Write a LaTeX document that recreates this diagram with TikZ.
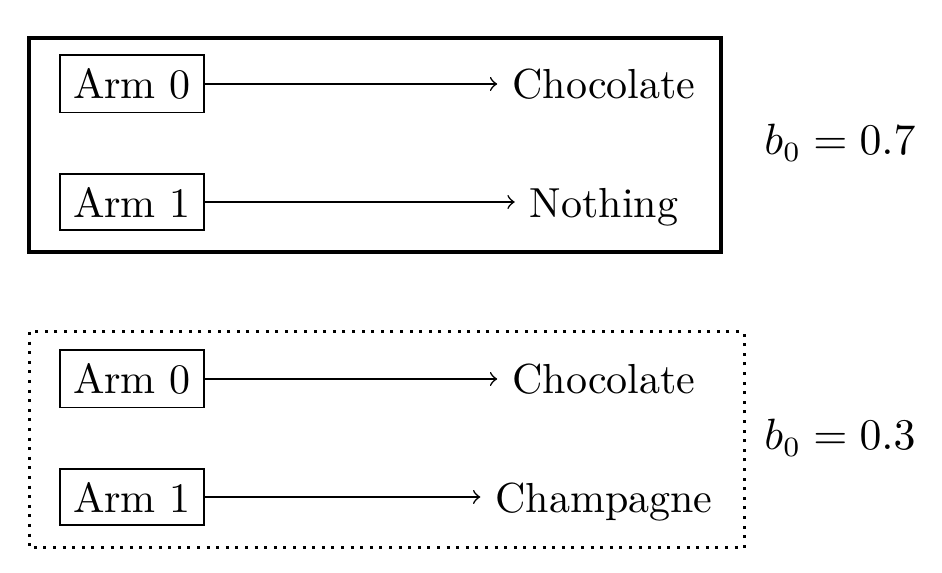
\documentclass[tikz,border=0pt]{standalone}
\usetikzlibrary{arrows}
\begin{document}
\begin{tikzpicture}[x=0.25pt,y=-0.25pt,
  every node/.style={font=\fontsize{10.5pt}{12.6pt}\selectfont},
  armbox/.style={draw,line width=0.4pt,minimum width=36pt,minimum height=13.8pt,inner sep=3.3pt},
  outcome/.style={anchor=base,inner sep=3.6pt},
  link/.style={->,line width=0.4pt},
  framesolid/.style={line width=0.8pt},
  framedotted/.style={line width=0.75pt,dash pattern=on 0.75pt off 1.65pt}]
\useasboundingbox (0,0) rectangle (942,573);
\coordinate (cx) at (604,0);
% top group
\draw[framesolid] (29,38) rectangle (721,252);
\node[armbox] (a0) at (132,84) {Arm 0};
\node[armbox] (a1) at (132,202) {Arm 1};
\node[outcome] (c0) at (a0.base -| cx) {Chocolate};
\node[outcome] (n1) at (a1.base -| cx) {Nothing};
\draw[link] (a0.east) -- (a0.east -| c0.west);
\draw[link] (a1.east) -- (a1.east -| n1.west);
\node (b07) at (840,143) {$b_0 = 0.7$};
% bottom group
\draw[framedotted] (29,332) rectangle (744,548);
\node[armbox] (a2) at (132,379) {Arm 0};
\node[armbox] (a3) at (132,497) {Arm 1};
\node[outcome] (c2) at (a2.base -| cx) {Chocolate};
\node[outcome] (p3) at (a3.base -| cx) {Champagne};
\draw[link] (a2.east) -- (a2.east -| c2.west);
\draw[link] (a3.east) -- (a3.east -| p3.west);
\node (b03) at (840,438) {$b_0 = 0.3$};
\end{tikzpicture}
\end{document}
